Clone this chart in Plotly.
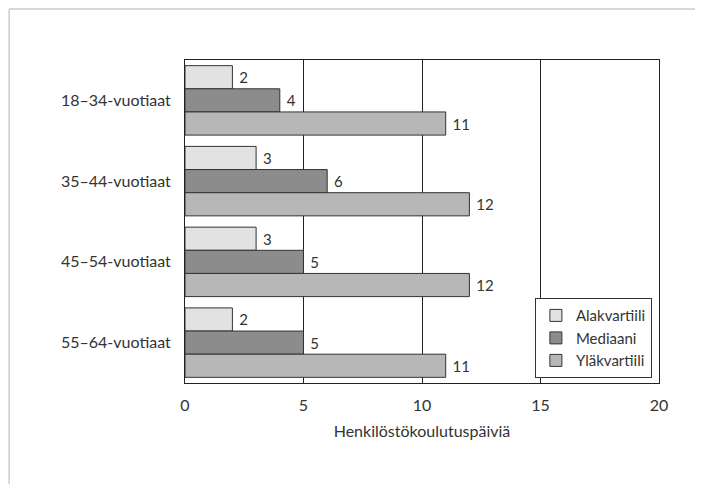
import plotly.graph_objects as go

# age groups and training days per employee
groups = ["18–34-vuotiaat", "35–44-vuotiaat", "45–54-vuotiaat", "55–64-vuotiaat"]
alakvartiili = [2, 3, 3, 2]
mediaani = [4, 6, 5, 5]
ylakvartiili = [11, 12, 12, 11]
x_ticks = [0, 5, 10, 15, 20]

FONT = "Lato"

fig = go.Figure()
for name, vals, color in [
    ("Alakvartiili", alakvartiili, "#e2e2e2"),
    ("Mediaani", mediaani, "#8c8c8c"),
    ("Yläkvartiili", ylakvartiili, "#b7b7b7"),
]:
    fig.add_trace(go.Bar(
        y=groups, x=vals, orientation="h", name=name,
        marker=dict(color=color, line=dict(color="#333333", width=1)),
        text=[f" {v}" for v in vals], textposition="outside",
        textfont=dict(family=FONT, size=15, color="#333"),
        cliponaxis=False,
    ))

# page body adds 8px, so the figure is a bit smaller than the window
fig.update_layout(
    width=687, height=476,
    margin=dict(l=177, r=36, t=52, b=101),
    paper_bgcolor="white", plot_bgcolor="white",
    barmode="group", bargap=0.14, bargroupgap=0,
    font=dict(family=FONT, size=16, color="#333"),
    showlegend=True,
    legend=dict(
        x=0.985, y=0.015, xanchor="right", yanchor="bottom",
        bordercolor="#333", borderwidth=1, bgcolor="white",
        font=dict(size=15), tracegroupgap=0, itemwidth=30,
    ),
    xaxis=dict(
        range=[0, 20], tickvals=x_ticks, showgrid=True, gridcolor="#222",
        gridwidth=1, zeroline=False, showline=True, linecolor="#222", mirror=True,
        ticks="", tickfont=dict(size=16), ticklabelstandoff=8,
        title=dict(text="Henkilöstökoulutuspäiviä", font=dict(size=16), standoff=12),
    ),
    yaxis=dict(
        autorange="reversed", showline=True, linecolor="#222", mirror=True,
        ticks="", tickfont=dict(size=16), ticklabelstandoff=10,
    ),
    shapes=[
        dict(type="line", xref="paper", yref="paper", x0=-0.371, x1=1.076, y0=1.158, y1=1.158,
             line=dict(color="#cccccc", width=1.5)),
        dict(type="line", xref="paper", yref="paper", x0=-0.371, x1=-0.371, y0=1.158, y1=-0.313,
             line=dict(color="#cccccc", width=1.5)),
    ],
)

fig.write_html("out.html")
